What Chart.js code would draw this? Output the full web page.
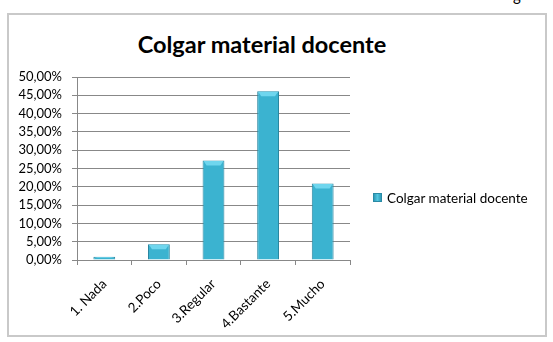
<!DOCTYPE html>
<html><head><meta charset="utf-8">
<script src="https://cdn.jsdelivr.net/npm/chart.js@4/dist/chart.umd.min.js"></script>
<style>
html,body{margin:0;padding:0;background:#fff;width:553px;height:342px;overflow:hidden;font-family:Lato,"Noto Sans",sans-serif;}
#frag{position:absolute;left:513px;top:-14px;font-size:15px;line-height:18px;color:#000;}
#box{position:absolute;left:7px;top:13px;width:540px;height:324px;border:2px solid #c9c9c9;box-sizing:border-box;}
#title{position:absolute;left:0;top:29px;width:524px;text-align:center;font-weight:bold;font-size:23.5px;line-height:30px;color:#000;}
#wrap{position:absolute;left:9px;top:15px;width:534px;height:320px;}
#legend{position:absolute;left:373px;top:190px;font-size:13.5px;color:#000;white-space:nowrap;}
#legend .sw{display:inline-block;width:7px;height:7px;margin-right:5px;vertical-align:1px;border:1px solid #2a8aa5;background:linear-gradient(90deg,#2f9ab7,#52c6e0,#2f9ab7);}
</style></head>
<body>
<div id="frag">g</div>
<div id="box"></div>
<div id="title"></div>
<div id="wrap"><canvas id="c"></canvas></div>
<div id="legend"></div>
<script>
const chartTitle = 'Colgar material docente';
const seriesName = 'Colgar material docente';
const categories = ['1. Nada', '2.Poco', '3.Regular', '4.Bastante', '5.Mucho'];
const values = [0.9, 4.3, 27.2, 46.1, 20.9];
const yMin = 0, yMax = 50, yStep = 5;

const fmt = v => v.toFixed(2).replace('.', ',') + '%';
const yFont = {family: 'Lato', size: 13};
const xFont = {family: 'Lato', size: 13.5};
const lineCol = '#888888';

function barFill(ctx) {
  const chart = ctx.chart;
  if (!chart.chartArea) return '#3bb3d0';
  const bar = ctx.element;
  if (!bar || bar.width === undefined || isNaN(bar.x)) return '#3bb3d0';
  const l = bar.x - bar.width / 2, r = bar.x + bar.width / 2;
  const g = chart.ctx.createLinearGradient(l, 0, r, 0);
  g.addColorStop(0, '#2a8ca8');
  g.addColorStop(0.35, '#45bcd8');
  g.addColorStop(0.6, '#42b8d4');
  g.addColorStop(1, '#2a8ca8');
  return g;
}

const bevel = {
  id: 'bevel',
  afterDatasetsDraw(chart) {
    const meta = chart.getDatasetMeta(0);
    const c = chart.ctx;
    meta.data.forEach(bar => {
      const p = bar.getProps(['x', 'y', 'base', 'width'], true);
      const h = Math.min(5, (p.base - p.y) / 2);
      const l = p.x - p.width / 2, r = p.x + p.width / 2;
      c.save();
      c.fillStyle = '#6fd6ee';
      c.beginPath();
      c.moveTo(l + 1, p.y + 0.5); c.lineTo(r - 1, p.y + 0.5);
      c.lineTo(r - 4, p.y + h); c.lineTo(l + 4, p.y + h);
      c.closePath(); c.fill();
      c.restore();
    });
  }
};

document.getElementById('title').textContent = chartTitle;

const chart = new Chart(document.getElementById('c'), {
  type: 'bar',
  data: {
    labels: categories,
    datasets: [{
      label: seriesName,
      data: values,
      backgroundColor: barFill,
      borderColor: '#2a86a0',
      borderWidth: 1,
      barPercentage: 0.4,
      categoryPercentage: 1
    }]
  },
  plugins: [bevel],
  options: {
    responsive: true,
    maintainAspectRatio: false,
    animation: false,
    layout: {padding: {left: 0, top: 62, right: 193, bottom: 0}},
    plugins: {legend: {display: false}, title: {display: false}, tooltip: {enabled: false}},
    scales: {
      x: {
        afterFit(s) { s.height = 75; },
        grid: {offset: true, drawOnChartArea: false, drawTicks: true, tickLength: 5, color: lineCol},
        border: {color: lineCol},
        ticks: {autoSkip: false, minRotation: 45, maxRotation: 45, padding: 11, color: '#000', font: xFont}
      },
      y: {
        min: yMin, max: yMax,
        afterFit(s) { s.width = 68; },
        grid: {color: lineCol, tickLength: 5},
        border: {color: lineCol},
        ticks: {stepSize: yStep, autoSkip: false, padding: 10, color: '#000', font: yFont, callback: v => fmt(v)}
      }
    }
  }
});

const lg = document.getElementById('legend');
chart.data.datasets.forEach(ds => {
  const sw = document.createElement('span'); sw.className = 'sw';
  lg.appendChild(sw);
  lg.appendChild(document.createTextNode(ds.label));
});
</script>
</body></html>
